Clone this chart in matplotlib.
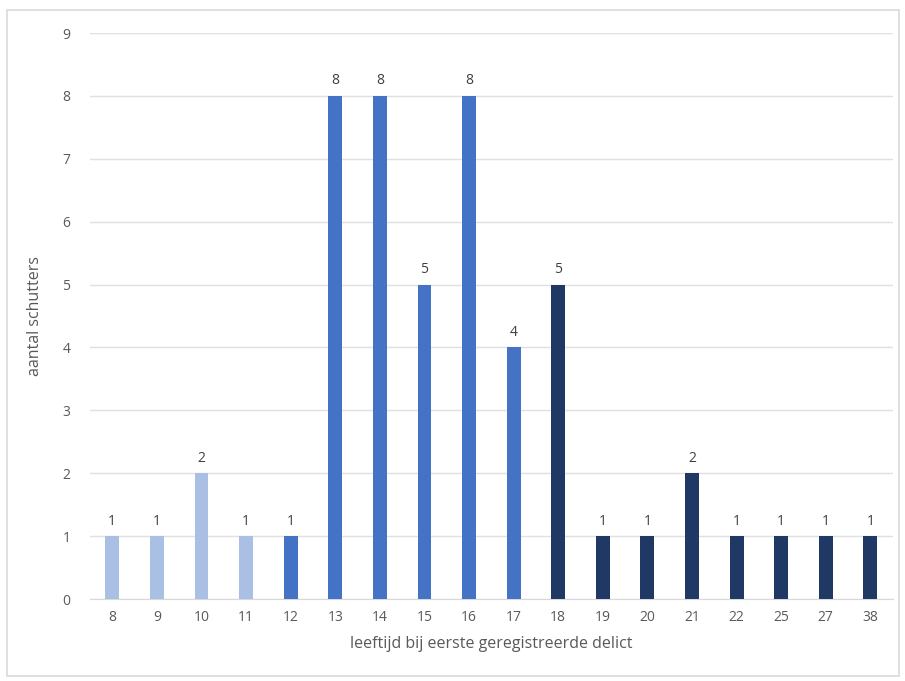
import numpy as np
import matplotlib.pyplot as plt
from matplotlib.patches import Rectangle

plt.rcParams['font.family'] = ['Open Sans', 'DejaVu Sans']

leeftijd = ['8', '9', '10', '11', '12', '13', '14', '15', '16', '17',
            '18', '19', '20', '21', '22', '25', '27', '38']
aantal = [1, 1, 2, 1, 1, 8, 8, 5, 8, 4, 5, 1, 1, 2, 1, 1, 1, 1]
groep = [0, 0, 0, 0, 1, 1, 1, 1, 1, 1, 2, 2, 2, 2, 2, 2, 2, 2]
kleuren = ['#A9BFE3', '#4472C4', '#1F3864']

fig = plt.figure(figsize=(9.05, 6.81), dpi=100)
fig.patches.append(Rectangle((0.008, 0.008), 0.985, 0.977, transform=fig.transFigure,
                             fill=False, edgecolor='#d9d9d9', linewidth=1.2))
ax = fig.add_axes([0.0994, 0.1204, 0.887, 0.8311])

x = np.arange(len(leeftijd))
bars = ax.bar(x, aantal, width=0.31, color=[kleuren[g] for g in groep], zorder=3)
for xi, v in zip(x, aantal):
    ax.text(xi, v + 0.12, str(v), ha='center', va='bottom', fontsize=10, color='#404040')

ax.set_xlim(-0.5, len(leeftijd) - 0.5)
ax.set_ylim(0, 9)
ax.set_yticks(range(0, 10))
ax.set_xticks(x)
ax.set_xticklabels(leeftijd)
ax.grid(axis='y', color='#e0e0e0', linewidth=1, zorder=0)
for s in ['top', 'right', 'left']:
    ax.spines[s].set_visible(False)
ax.spines['bottom'].set_color('#d9d9d9')
ax.tick_params(length=0, labelsize=10, labelcolor='#595959')
ax.tick_params(axis='x', pad=8)
ax.tick_params(axis='y', pad=14)

ax.set_xlabel('leeftijd bij eerste geregistreerde delict', fontsize=11.5, color='#595959', labelpad=8)
ax.set_ylabel('aantal schutters', fontsize=11.5, color='#595959', labelpad=14)

fig.savefig('out.png', dpi=100)
